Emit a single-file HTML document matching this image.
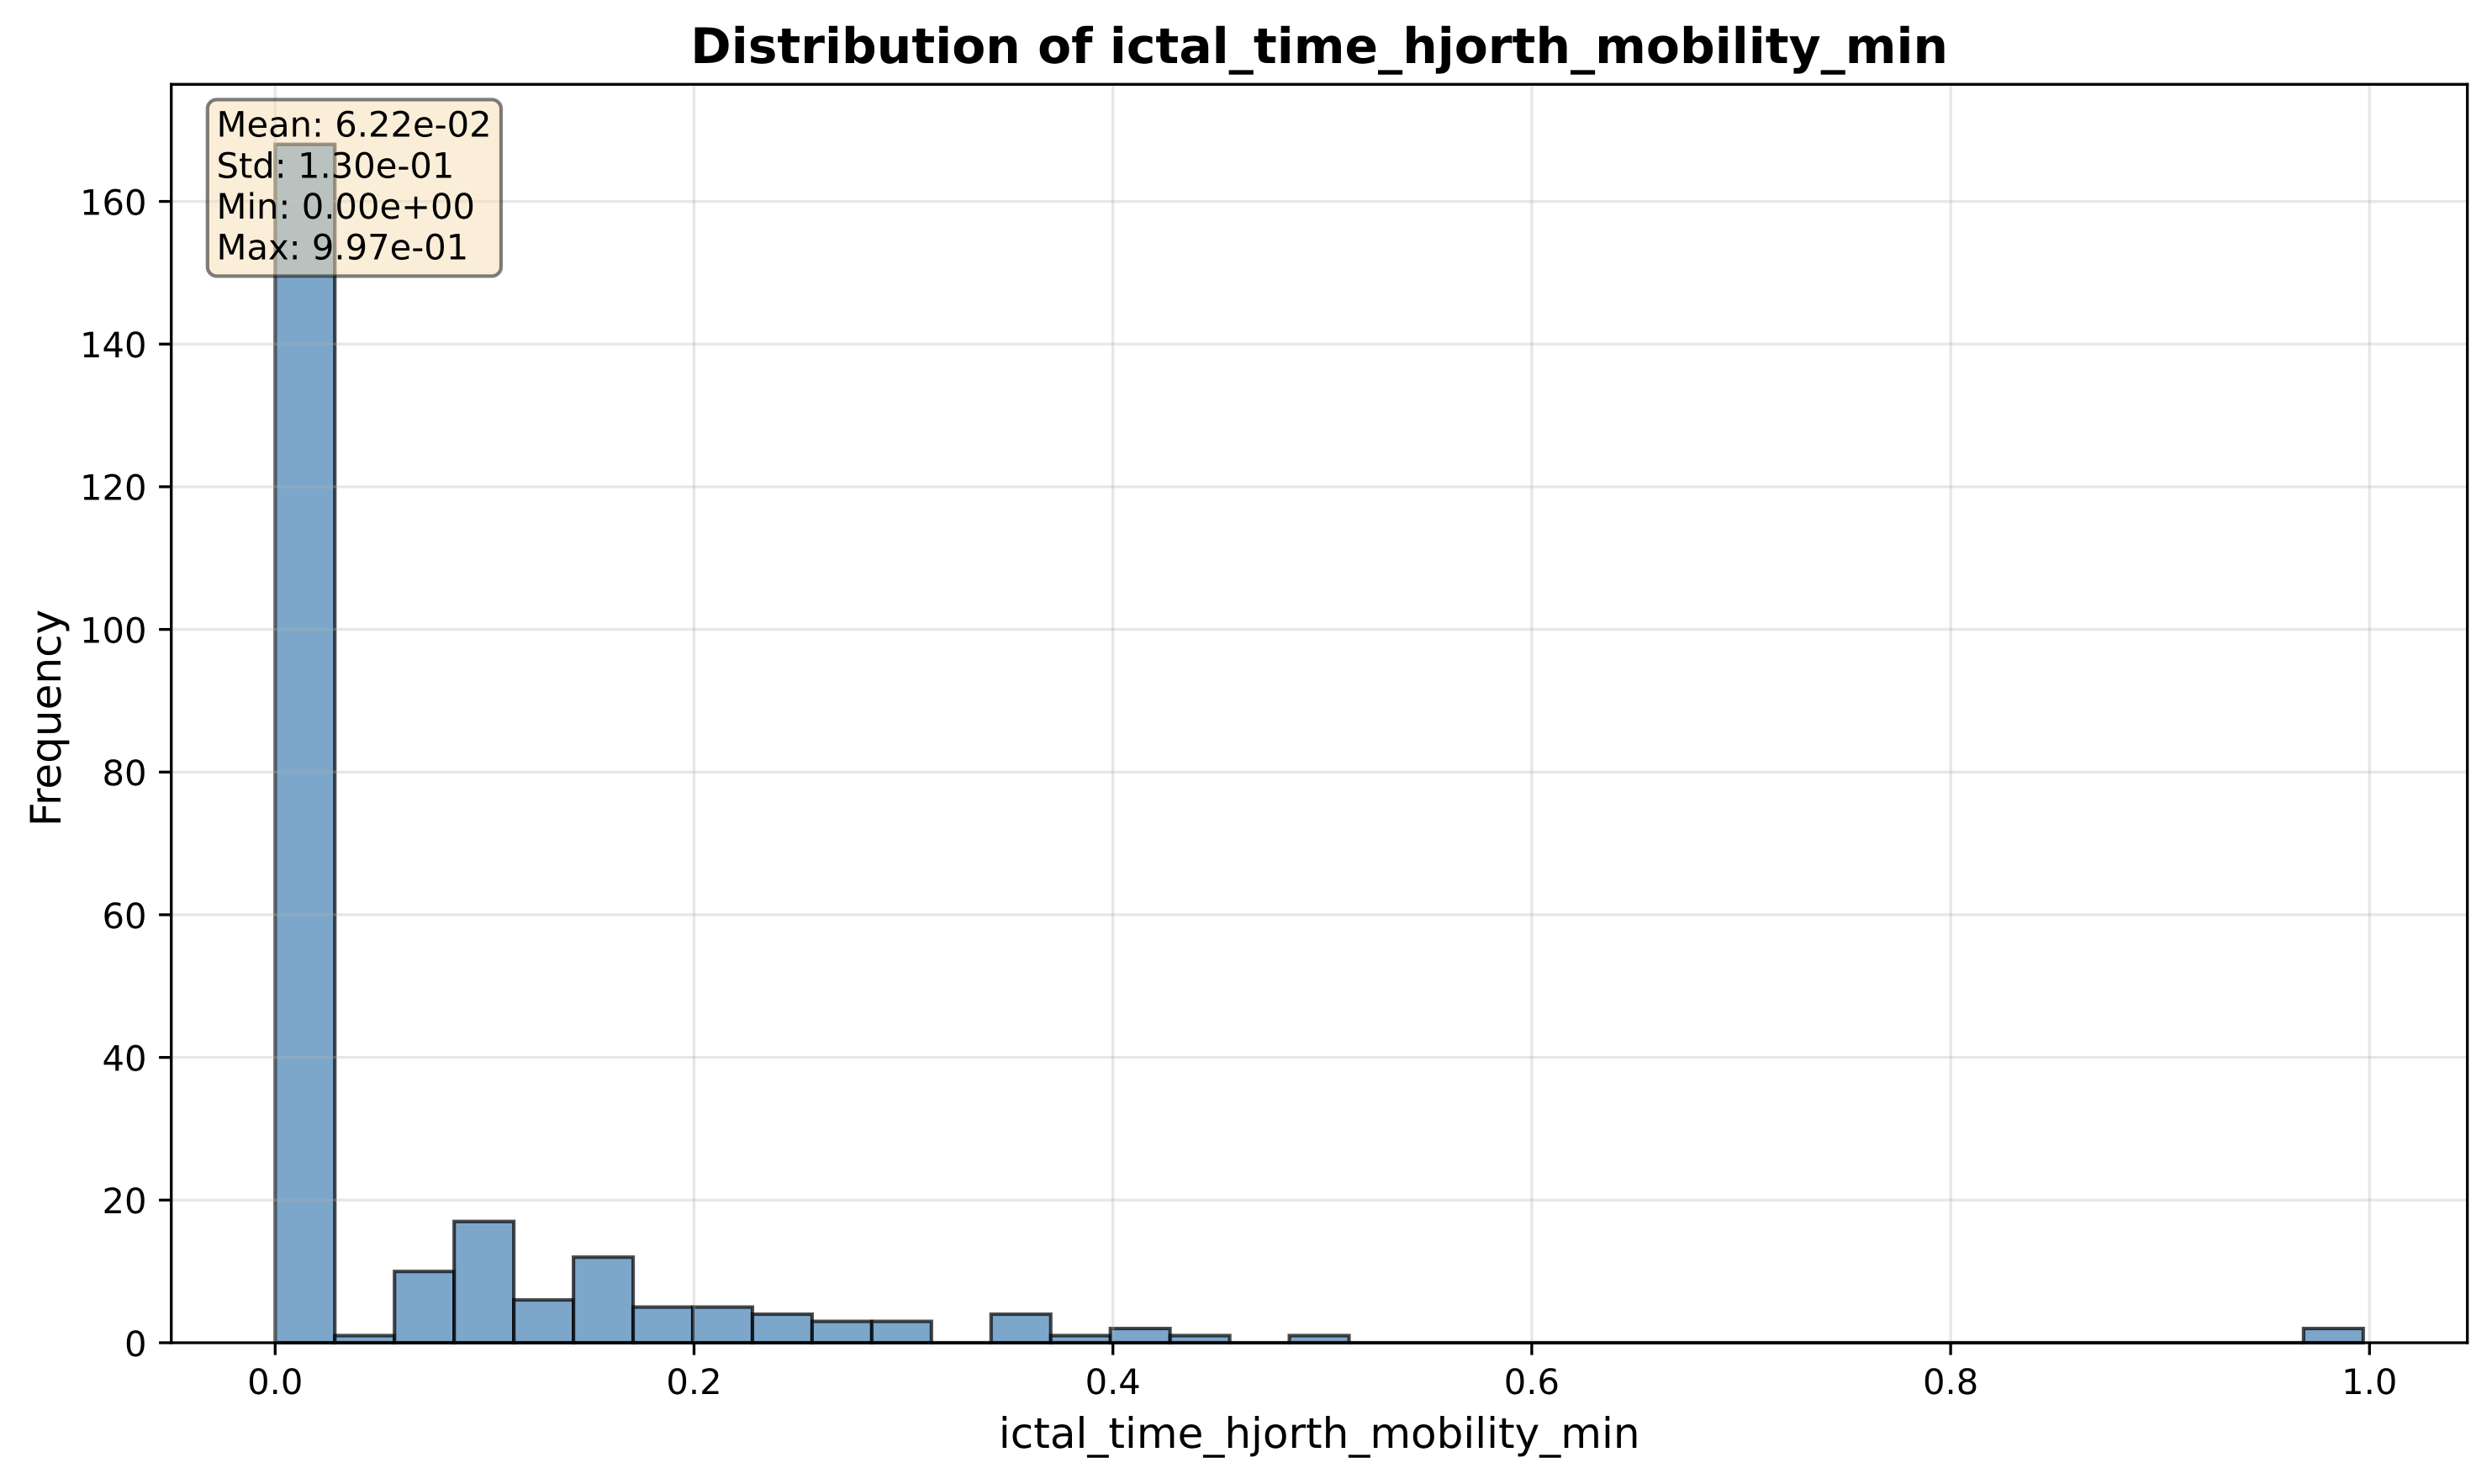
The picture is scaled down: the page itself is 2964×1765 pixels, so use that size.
<!DOCTYPE html>
<html lang="en">
<head>
<meta charset="utf-8">
<title>Distribution of ictal_time_hjorth_mobility_min</title>
<style>
html,body{margin:0;padding:0;background:#fff;width:2964px;height:1765px;overflow:hidden}
svg{display:block}
text{font-family:"DejaVu Sans","Liberation Sans",sans-serif;fill:#000;text-rendering:geometricPrecision}
</style>
</head>
<body>
<svg id="chart" xmlns="http://www.w3.org/2000/svg" width="2964" height="1765" viewBox="0 0 2964 1765">
<rect x="0" y="0" width="2964" height="1765" fill="#ffffff"/>
<g id="bars"></g>
<g id="grid"></g>
<g id="ticks"></g>
<g stroke="#000" stroke-width="3.33" fill="none">
<line x1="203.7" y1="98.6" x2="203.7" y2="1598.7"/>
<line x1="2934.7" y1="98.6" x2="2934.7" y2="1598.7"/>
<line x1="202" y1="100.3" x2="2936.4" y2="100.3"/>
<line x1="202" y1="1597" x2="2936.4" y2="1597"/>
</g>
<g id="labels"></g>
<text x="1569.2" y="75" text-anchor="middle" font-size="58.33" font-weight="700">Distribution of ictal_time_hjorth_mobility_min</text>
<text x="1569.2" y="1722" text-anchor="middle" font-size="50">ictal_time_hjorth_mobility_min</text>
<text transform="translate(72 854) rotate(-90)" text-anchor="middle" font-size="50">Frequency</text>
<g>
<rect x="246.8" y="118.4" width="349.2" height="210" rx="11" ry="11" fill="#f5deb3" fill-opacity="0.5" stroke="#000" stroke-opacity="0.5" stroke-width="4.17"/>
<text x="257.5" y="162.7" font-size="41.67">Mean: 6.22e-02</text>
<text x="257.5" y="211.7" font-size="41.67">Std: 1.30e-01</text>
<text x="257.5" y="260" font-size="41.67">Min: 0.00e+00</text>
<text x="257.5" y="308.3" font-size="41.67">Max: 9.97e-01</text>
</g>
</svg>
<script>
const binCounts = [168, 1, 10, 17, 6, 12, 5, 5, 4, 3, 3, 0, 4, 1, 2, 1, 0, 1, 0, 0, 0, 0, 0, 0, 0, 0, 0, 0, 0, 0, 0, 0, 0, 0, 2];
const dataMin = 0;
const dataMax = 0.997;
const xTickValues = [0, 0.2, 0.4, 0.6, 0.8, 1.0];
const xTickLabels = ["0.0", "0.2", "0.4", "0.6", "0.8", "1.0"];
const yTickValues = [0, 20, 40, 60, 80, 100, 120, 140, 160];
const yTickLabels = ["0", "20", "40", "60", "80", "100", "120", "140", "160"];

const NS = 'http://www.w3.org/2000/svg';
function xScale(v) { return 327.3 + v * 2491; }
function yScale(v) { return 1597 - v * 8.484; }

const barsGroup = document.getElementById('bars');
const gridGroup = document.getElementById('grid');
const ticksGroup = document.getElementById('ticks');
const labelsGroup = document.getElementById('labels');
const binWidth = (dataMax - dataMin) / binCounts.length;

binCounts.forEach(function (count, i) {
  const x0 = xScale(dataMin + i * binWidth);
  const x1 = xScale(dataMin + (i + 1) * binWidth);
  const y0 = yScale(0);
  const y1 = yScale(count);
  const bar = document.createElementNS(NS, 'path');
  bar.setAttribute('d', 'M' + x0 + ' ' + y0 + 'L' + x0 + ' ' + y1 + 'L' + x1 + ' ' + y1 + 'L' + x1 + ' ' + y0 + 'Z');
  bar.setAttribute('fill', '#4682b4');
  bar.setAttribute('fill-opacity', '0.7');
  bar.setAttribute('stroke', '#000');
  bar.setAttribute('stroke-opacity', '0.7');
  bar.setAttribute('stroke-width', '4.17');
  
  
  barsGroup.appendChild(bar);
});

xTickValues.forEach(function (v, i) {
  const x = xScale(v);
  const grid = document.createElementNS(NS, 'line');
  grid.setAttribute('x1', x);
  grid.setAttribute('x2', x);
  grid.setAttribute('y1', 100.3);
  grid.setAttribute('y2', 1597);
  grid.setAttribute('stroke', '#b0b0b0');
  grid.setAttribute('stroke-opacity', '0.3');
  grid.setAttribute('stroke-width', '3.33');
  
  
  gridGroup.appendChild(grid);

  const tick = document.createElementNS(NS, 'line');
  tick.setAttribute('x1', x);
  tick.setAttribute('x2', x);
  tick.setAttribute('y1', 1597);
  tick.setAttribute('y2', 1611.6);
  tick.setAttribute('stroke', '#000');
  tick.setAttribute('stroke-width', '3.33');
  
  
  ticksGroup.appendChild(tick);

  const label = document.createElementNS(NS, 'text');
  label.setAttribute('x', x);
  label.setAttribute('y', 1658);
  label.setAttribute('text-anchor', 'middle');
  label.setAttribute('font-size', '41.67');
  
  
  label.textContent = xTickLabels[i];
  labelsGroup.appendChild(label);
});

yTickValues.forEach(function (v, i) {
  const y = yScale(v);
  const grid = document.createElementNS(NS, 'line');
  grid.setAttribute('x1', 203.7);
  grid.setAttribute('x2', 2934.7);
  grid.setAttribute('y1', y);
  grid.setAttribute('y2', y);
  grid.setAttribute('stroke', '#b0b0b0');
  grid.setAttribute('stroke-opacity', '0.3');
  grid.setAttribute('stroke-width', '3.33');
  
  
  gridGroup.appendChild(grid);

  const tick = document.createElementNS(NS, 'line');
  tick.setAttribute('x1', 189.1);
  tick.setAttribute('x2', 203.7);
  tick.setAttribute('y1', y);
  tick.setAttribute('y2', y);
  tick.setAttribute('stroke', '#000');
  tick.setAttribute('stroke-width', '3.33');
  
  
  ticksGroup.appendChild(tick);

  const label = document.createElementNS(NS, 'text');
  label.setAttribute('x', 174.5);
  label.setAttribute('y', y + 15.8);
  label.setAttribute('text-anchor', 'end');
  label.setAttribute('font-size', '41.67');
  
  
  label.textContent = yTickLabels[i];
  labelsGroup.appendChild(label);
});
</script>
</body>
</html>
